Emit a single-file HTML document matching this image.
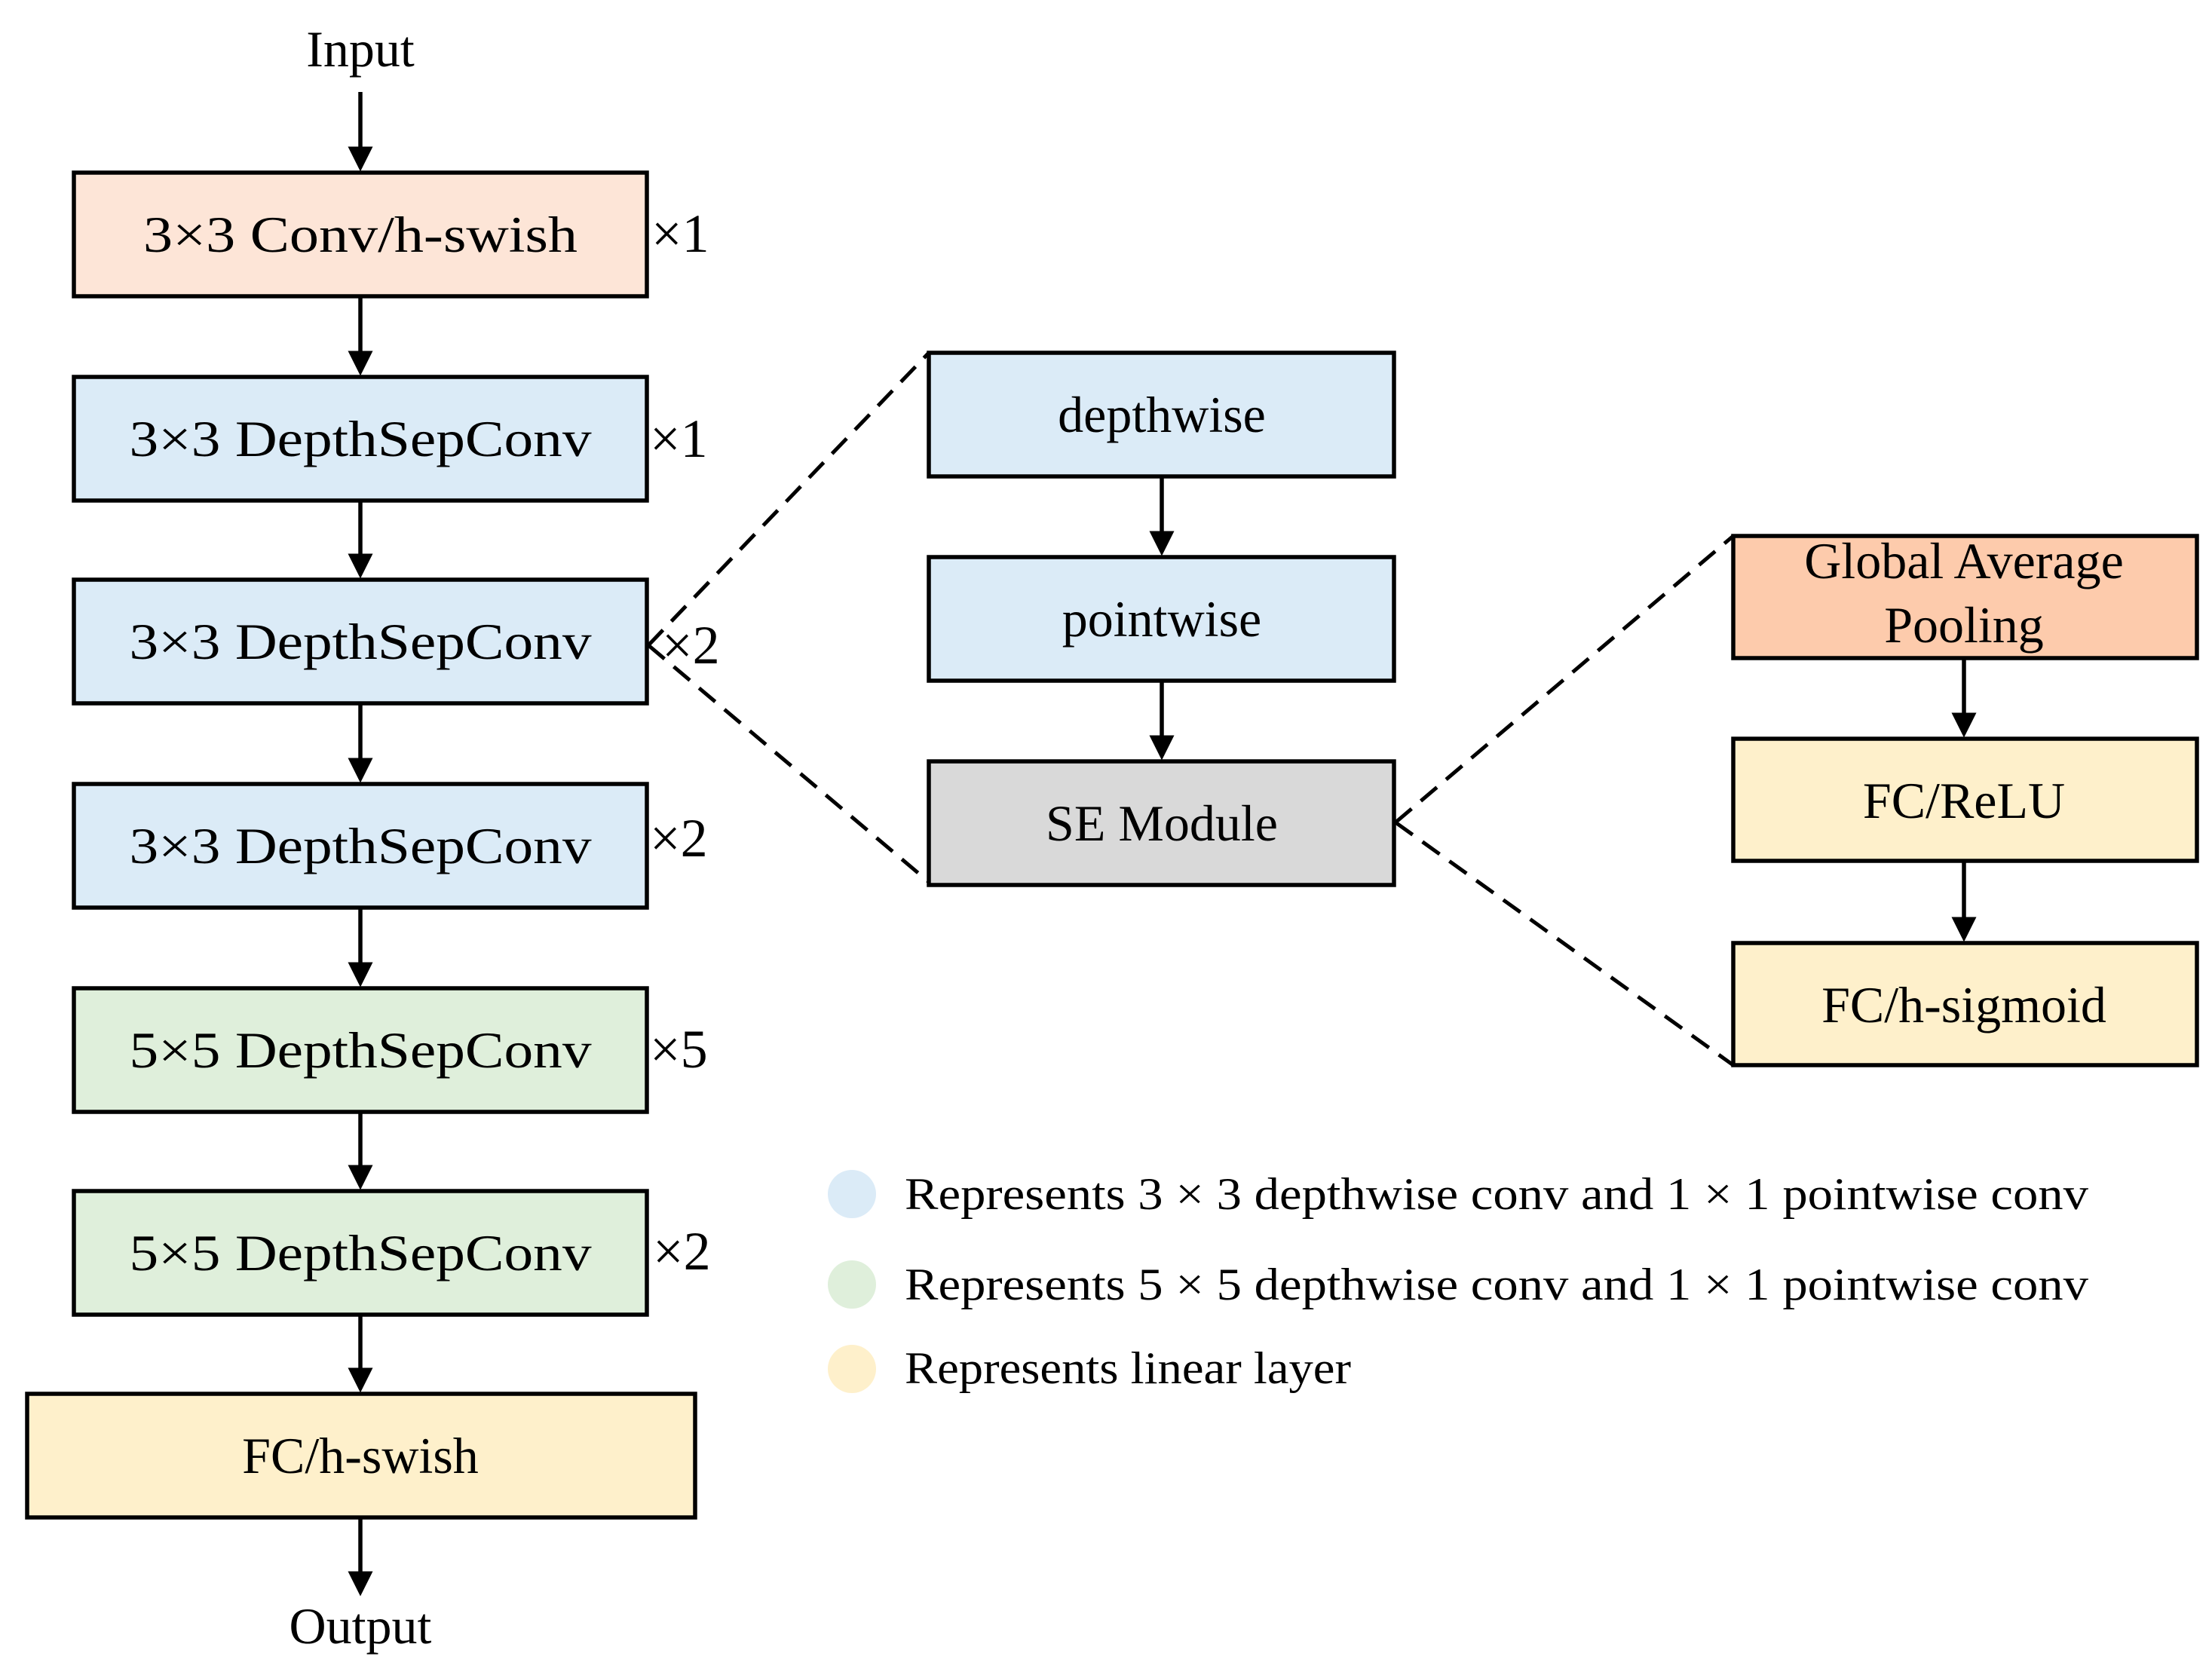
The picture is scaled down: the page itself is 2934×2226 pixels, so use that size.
<!DOCTYPE html>
<html><head><meta charset="utf-8"><style>
html,body{margin:0;padding:0;background:#fff;}
svg{display:block;}
text{font-family:"Liberation Serif",serif;fill:#000;}
</style></head><body>
<svg width="2934" height="2226" viewBox="0 0 2934 2226" xmlns="http://www.w3.org/2000/svg">
<defs>
<marker id="ah" markerWidth="6" markerHeight="6" refX="5" refY="3" orient="auto" markerUnits="strokeWidth">
<path d="M0,0 L6,3 L0,6 z" fill="#000"/>
</marker>
</defs>
<g stroke="#000" stroke-width="5.5" fill="none">
<line x1="478" y1="122" x2="478" y2="222" marker-end="url(#ah)"/>
<line x1="478" y1="393" x2="478" y2="493" marker-end="url(#ah)"/>
<line x1="478" y1="664" x2="478" y2="762" marker-end="url(#ah)"/>
<line x1="478" y1="933" x2="478" y2="1033" marker-end="url(#ah)"/>
<line x1="478" y1="1204" x2="478" y2="1304" marker-end="url(#ah)"/>
<line x1="478" y1="1475" x2="478" y2="1573" marker-end="url(#ah)"/>
<line x1="478" y1="1744" x2="478" y2="1842" marker-end="url(#ah)"/>
<line x1="478" y1="2013" x2="478" y2="2112" marker-end="url(#ah)"/>
<line x1="1541" y1="632" x2="1541" y2="732" marker-end="url(#ah)"/>
<line x1="1541" y1="903" x2="1541" y2="1003" marker-end="url(#ah)"/>
<line x1="2605" y1="873" x2="2605" y2="973" marker-end="url(#ah)"/>
<line x1="2605" y1="1142" x2="2605" y2="1244" marker-end="url(#ah)"/>
</g>
<g stroke="#000" stroke-width="5" fill="none" stroke-dasharray="28,16">
<line x1="860" y1="856" x2="1232" y2="468"/>
<line x1="860" y1="856" x2="1232" y2="1170"/>
<line x1="1851" y1="1091" x2="2299" y2="711"/>
<line x1="1851" y1="1091" x2="2299" y2="1413"/>
</g>
<g stroke="#000" stroke-width="5.5">
<rect x="98" y="229" width="760" height="164" fill="#fde5d7"/>
<rect x="98" y="500" width="760" height="164" fill="#dbebf7"/>
<rect x="98" y="769" width="760" height="164" fill="#dbebf7"/>
<rect x="98" y="1040" width="760" height="164" fill="#dbebf7"/>
<rect x="98" y="1311" width="760" height="164" fill="#dfefdb"/>
<rect x="98" y="1580" width="760" height="164" fill="#dfefdb"/>
<rect x="36" y="1849" width="886" height="164" fill="#fef0cb"/>
<rect x="1232" y="468" width="617" height="164" fill="#dbebf7"/>
<rect x="1232" y="739" width="617" height="164" fill="#dbebf7"/>
<rect x="1232" y="1010" width="617" height="164" fill="#d9d9d9"/>
<rect x="2299" y="711" width="615" height="162" fill="#fdcbac"/>
<rect x="2299" y="980" width="615" height="162" fill="#fef0cb"/>
<rect x="2299" y="1251" width="615" height="162" fill="#fef0cb"/>
</g>
<g font-size="68" text-anchor="middle">
<text x="478" y="88">Input</text>
<text x="478" y="334" textLength="576" lengthAdjust="spacingAndGlyphs">3×3 Conv/h-swish</text>
<text x="478" y="605" textLength="613" lengthAdjust="spacingAndGlyphs">3×3 DepthSepConv</text>
<text x="478" y="874" textLength="613" lengthAdjust="spacingAndGlyphs">3×3 DepthSepConv</text>
<text x="478" y="1145" textLength="613" lengthAdjust="spacingAndGlyphs">3×3 DepthSepConv</text>
<text x="478" y="1416" textLength="613" lengthAdjust="spacingAndGlyphs">5×5 DepthSepConv</text>
<text x="478" y="1685" textLength="613" lengthAdjust="spacingAndGlyphs">5×5 DepthSepConv</text>
<text x="478" y="1954">FC/h-swish</text>
<text x="478" y="2180">Output</text>
<text x="1541" y="573">depthwise</text>
<text x="1541" y="844">pointwise</text>
<text x="1541" y="1115">SE Module</text>
<text x="2605" y="767">Global Average</text>
<text x="2605" y="852">Pooling</text>
<text x="2605" y="1085">FC/ReLU</text>
<text x="2605" y="1356">FC/h-sigmoid</text>
</g>
<g font-size="72">
<text x="864" y="334">×1</text>
<text x="862" y="606">×1</text>
<text x="878" y="880">×2</text>
<text x="862" y="1136">×2</text>
<text x="862" y="1416">×5</text>
<text x="866" y="1684">×2</text>
</g>
<circle cx="1130" cy="1584" r="32" fill="#dbebf7"/>
<circle cx="1130" cy="1704" r="32" fill="#dfefdb"/>
<circle cx="1130" cy="1816" r="32" fill="#fef0cb"/>
<g font-size="60">
<text x="1200" y="1604" textLength="1570" lengthAdjust="spacingAndGlyphs">Represents 3 × 3 depthwise conv and 1 × 1 pointwise conv</text>
<text x="1200" y="1724" textLength="1570" lengthAdjust="spacingAndGlyphs">Represents 5 × 5 depthwise conv and 1 × 1 pointwise conv</text>
<text x="1200" y="1835" textLength="592" lengthAdjust="spacingAndGlyphs">Represents linear layer</text>
</g>
</svg>
</body></html>
